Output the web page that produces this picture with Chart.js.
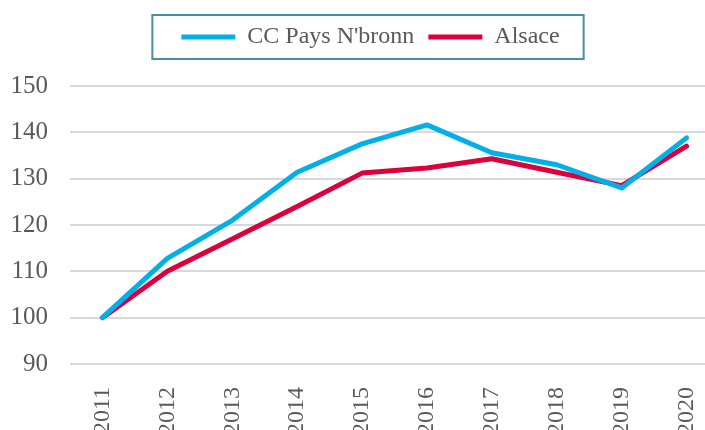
<!DOCTYPE html>
<html lang="fr">
<head>
<meta charset="UTF-8">
<title>CC Pays N'bronn / Alsace</title>
<script src="https://cdn.jsdelivr.net/npm/chart.js"></script>
<style>
  body { margin: 0; overflow: hidden; background: #fff; }
</style>
</head>
<body>

<canvas id="myChart" width="719" height="430"></canvas>

<script>
  //data
  const years = ['2011', '2012', '2013', '2014', '2015', '2016', '2017', '2018', '2019', '2020'];
  const ccPays = [100, 112.8, 121.0, 131.4, 137.5, 141.6, 135.6, 133.0, 128.0, 138.8];
  const alsace = [100, 110.0, 117.0, 124.0, 131.2, 132.3, 134.3, 131.4, 128.5, 137.0];
  const yTicks = [90, 100, 110, 120, 130, 140, 150];

  const textColor = '#595959';
  const legendFont = { family: "'Liberation Serif', serif", size: 24 };
  const yFont = { family: "'Liberation Serif', serif", size: 25 };
  const xFont = { family: "'Liberation Serif', serif", size: 24 };

  // frame round the legend + extra room under it
  const legendFrame = {
    id: 'legendFrame',
    beforeInit(chart) {
      if (!chart.legend) return;
      const fit = chart.legend.fit;
      chart.legend.fit = function () {
        fit.call(this);
        this.height += 27;
      };
    },
    afterLayout(chart) {
      chart.legend.left += 6;
      chart.legend.right += 6;
    },
    afterDraw(chart) {
      const boxes = chart.legend.legendHitBoxes;
      if (!boxes || !boxes.length) return;
      const left = Math.min(...boxes.map(b => b.left));
      const right = Math.max(...boxes.map(b => b.left + b.width));
      const mid = boxes[0].top + boxes[0].height / 2;
      const ctx = chart.ctx;
      ctx.save();
      ctx.strokeStyle = '#4a8ea6';
      ctx.lineWidth = 2;
      ctx.strokeRect(left - 29, mid - 22, right - left + 53, 44);
      ctx.restore();
    }
  };

  //config
  const config = {
    type: 'line',
    data: {
      labels: years,
      datasets: [{
        label: "CC Pays N'bronn",
        data: ccPays,
        borderColor: '#00b0e6',
        backgroundColor: '#00b0e6',
        borderWidth: 5,
        borderCapStyle: 'round',
        borderJoinStyle: 'round',
        pointRadius: 0,
        tension: 0
      }, {
        label: 'Alsace',
        data: alsace,
        borderColor: '#dc003c',
        backgroundColor: '#dc003c',
        borderWidth: 5,
        borderCapStyle: 'round',
        borderJoinStyle: 'round',
        pointRadius: 0,
        tension: 0
      }]
    },
    options: {
      responsive: false,
      animation: false,
      devicePixelRatio: 1,
      layout: { padding: { top: 11, left: 10, right: 0, bottom: 0 } },
      plugins: {
        tooltip: { enabled: false },
        legend: {
          position: 'top',
          labels: {
            usePointStyle: true,
            pointStyle: 'line',
            pointStyleWidth: 54,
            padding: 14,
            color: textColor,
            font: legendFont,
            sort: (a, b) => a.datasetIndex - b.datasetIndex
          }
        }
      },
      scales: {
        x: {
          offset: true,
          grid: { display: false },
          border: { display: false },
          ticks: {
            color: textColor,
            font: xFont,
            minRotation: 90,
            maxRotation: 90,
            autoSkip: false,
            padding: 15
          },
          afterFit: (scale) => {
            scale.height = 66;
            scale.paddingLeft = 0;
            scale.paddingRight = 0;
          }
        },
        y: {
          min: yTicks[0],
          max: yTicks[yTicks.length - 1],
          border: { display: false },
          grid: { color: '#d9d9d9', lineWidth: 2, drawTicks: false },
          ticks: {
            stepSize: yTicks[1] - yTicks[0],
            color: textColor,
            font: yFont,
            padding: 22
          },
          afterFit: (scale) => { scale.width = 60; }
        }
      }
    },
    plugins: [legendFrame]
  };

  //render
  const linechart = new Chart(document.getElementById('myChart'), config);
</script>

</body>
</html>
